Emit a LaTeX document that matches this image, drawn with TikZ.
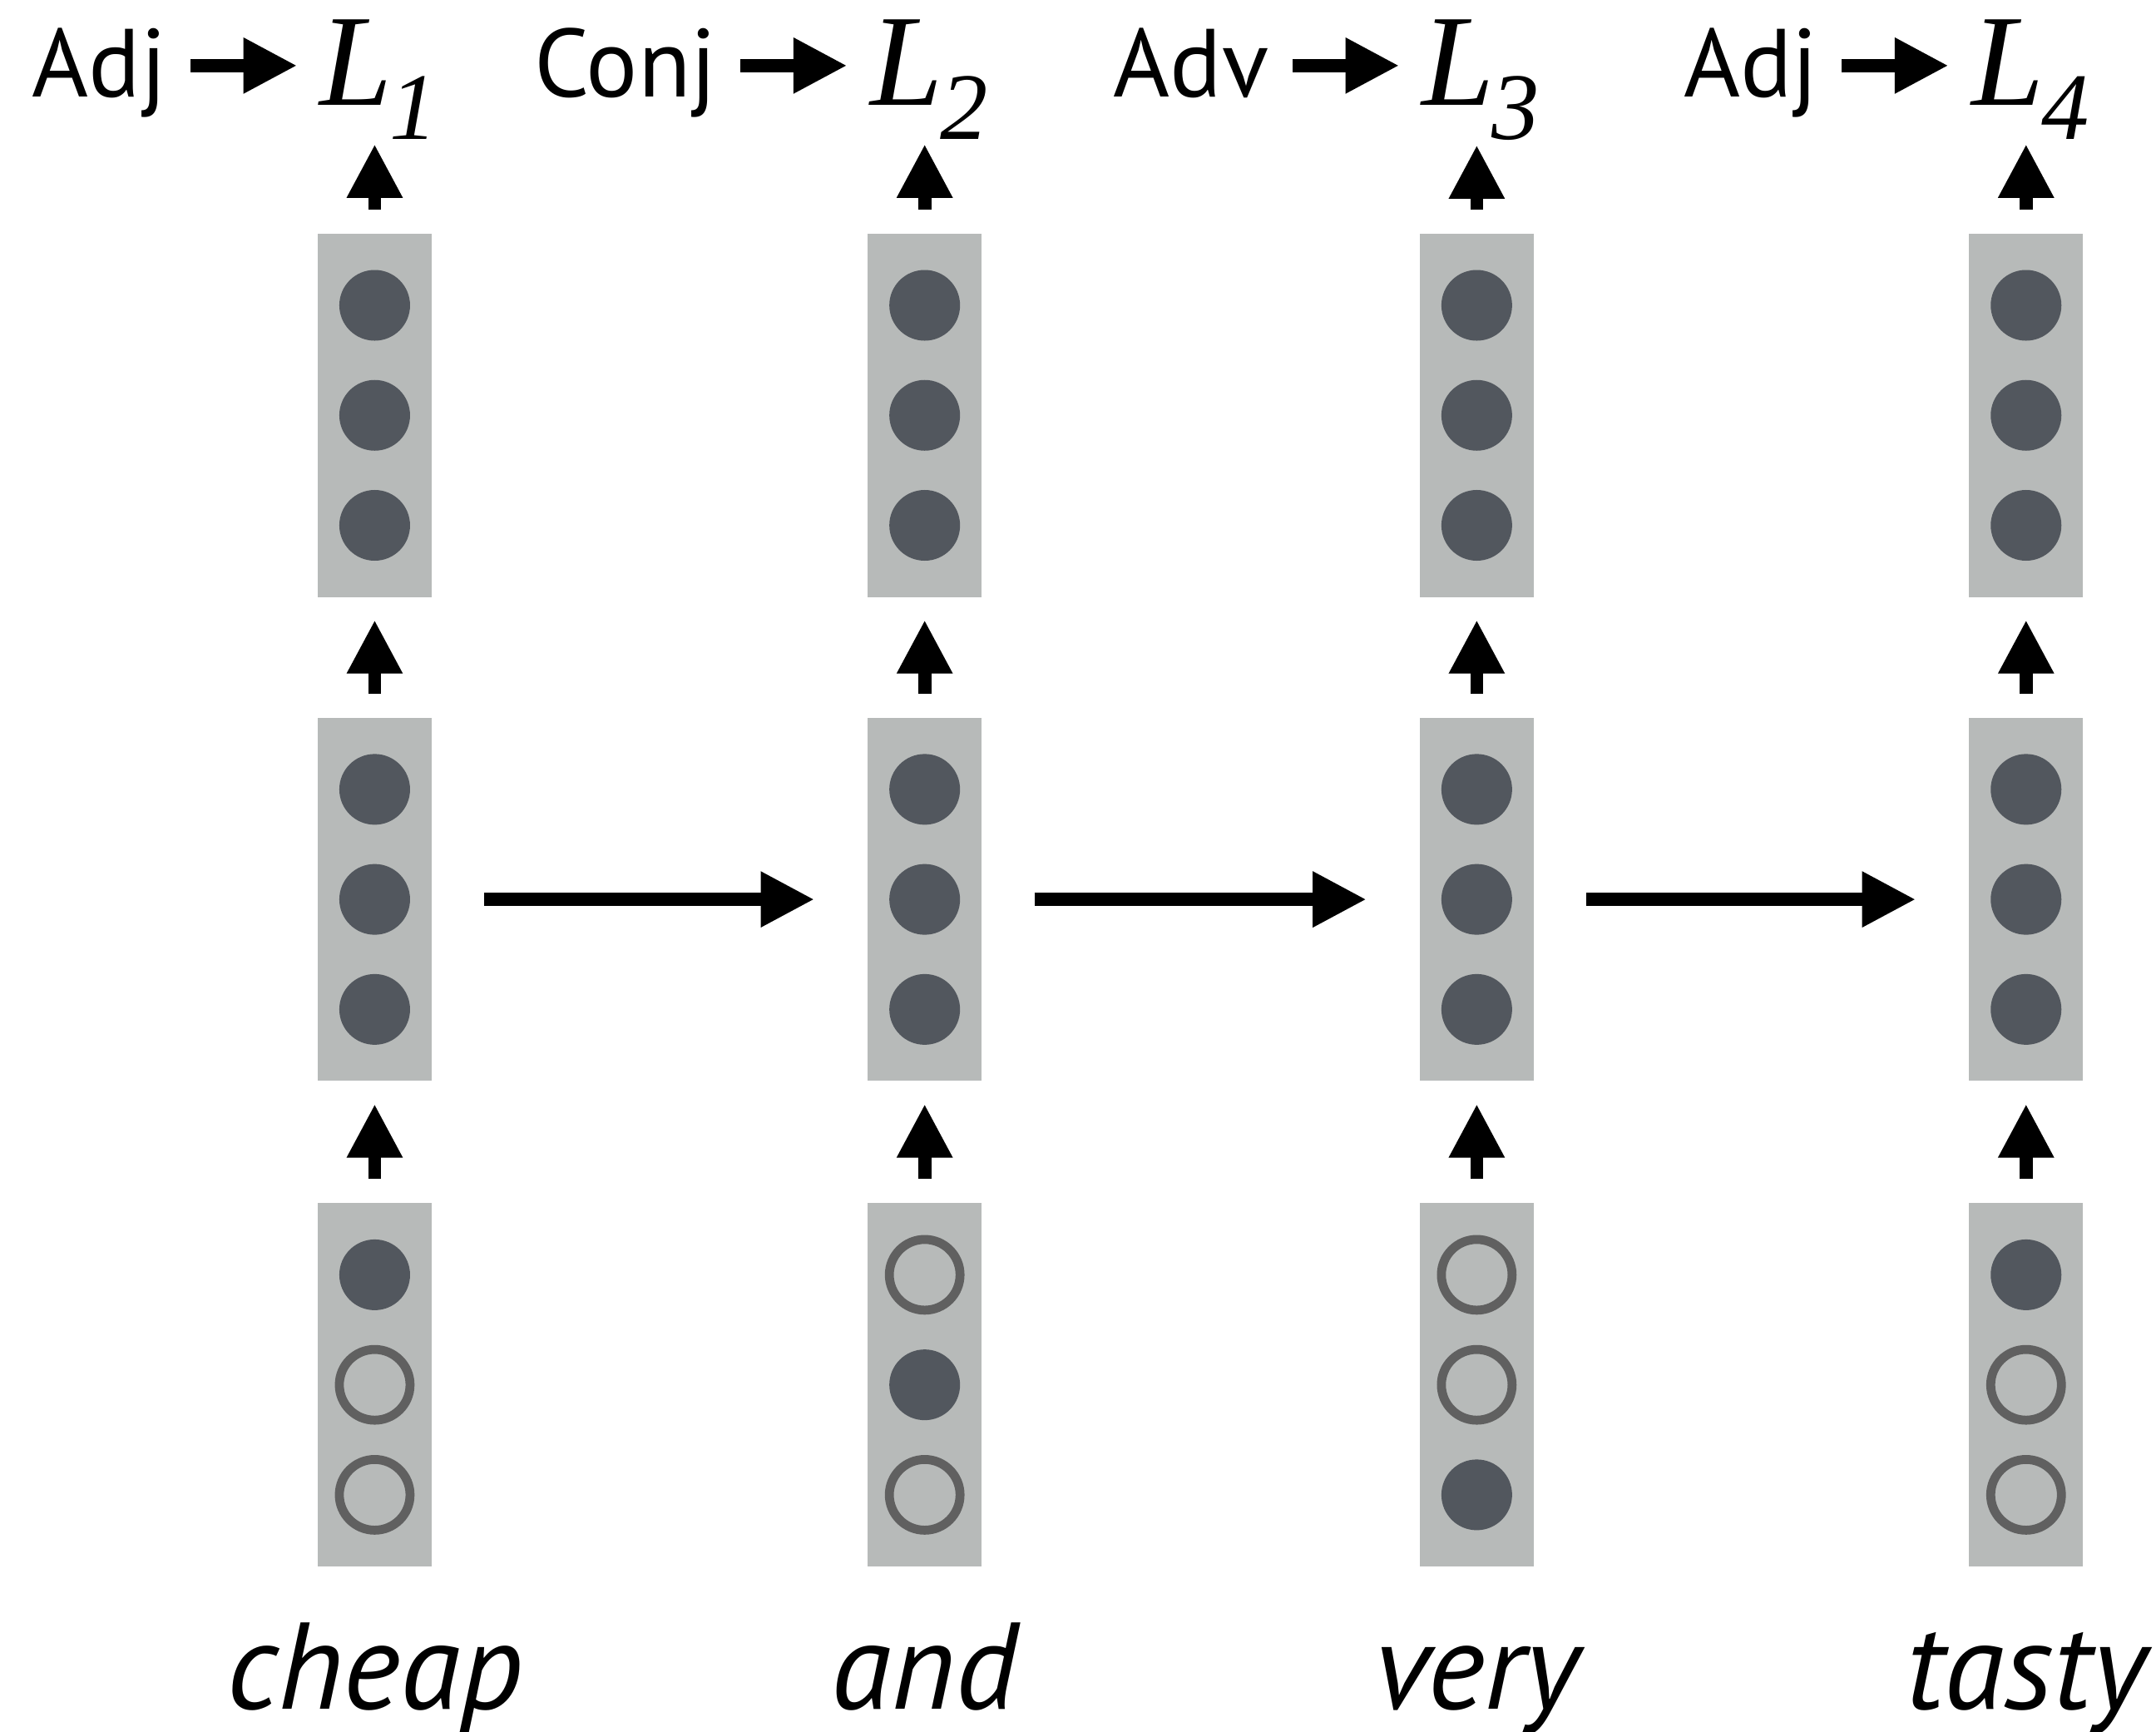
\documentclass[tikz,border=0pt]{standalone}
\usepackage{fontspec}
\usetikzlibrary{arrows.meta}

\newfontfamily\wordfont{PT Sans}
\newfontfamily\lfont{Liberation Serif}

\definecolor{boxgray}{RGB}{183,186,185}
\definecolor{unitdark}{RGB}{82,87,94}
\definecolor{ringgray}{RGB}{96,96,96}

\tikzset{
  layer/.style={fill=boxgray, minimum width=0.83cm, minimum height=2.64cm, inner sep=0},
  on/.style={fill=unitdark},
  off/.style={draw=ringgray, line width=0.065cm},
  arr/.style={line width=0.095cm, -{Triangle[length=0.39cm,width=0.38cm]}},
  tag/.style={font={\wordfont\fontsize{20}{24}\selectfont}, inner sep=0},
  word/.style={font={\wordfont\itshape\fontsize{25.5}{30}\selectfont}, inner sep=0},
  lab/.style={inner sep=0}
}

% L with a lowered index
\newcommand{\Lsub}[1]{{\lfont\itshape\fontsize{27}{30}\selectfont L}\kern-0.02cm\raisebox{-0.245cm}{\lfont\itshape\fontsize{19.7}{22}\selectfont #1}}

\begin{document}
\begin{tikzpicture}[x=0.01cm, y=-0.01cm]
\useasboundingbox (0,0) rectangle (1568,1259);

% Layers, words and labels
\foreach \i/\x/\w/\t in {1/272.5/cheap/Adj, 2/672.5/and/Conj, 3/1074/very/Adv, 4/1473.5/tasty/Adj} {
  \node[layer] (top\i) at (\x,302) {};
  \node[layer] (mid\i) at (\x,654) {};
  \node[layer] (bot\i) at (\x,1007) {};
  \node[word, anchor=base] (w\i) at (\x,1242.7) {\w};
  \node[lab, anchor=base] (l\i) at ([xshift=0.03cm]\x,76.6) {\Lsub{\i}};
  \node[tag, anchor=base east] (t\i) at ([xshift=-1.1cm,yshift=0.06cm]l\i.base west) {\t};
  \coordinate (a\i) at ([yshift=0.229cm]t\i.base east);
}

% Hidden units
\foreach \i in {1,...,4}
  \foreach \l in {top,mid}
    \foreach \d in {-80,0,80}
      \fill[unitdark] (\l\i) ++(0,\d) circle (0.257cm);

% Input units
\foreach \i/\p/\q/\r in {1/on/off/off, 2/off/on/off, 3/off/off/on, 4/on/off/off} {
  \path[\p] (bot\i) ++(0,-80) circle (0.257cm);
  \path[\q] (bot\i) circle (0.257cm);
  \path[\r] (bot\i) ++(0,80) circle (0.257cm);
}

% Up arrows
\foreach \i in {1,...,4} {
  \draw[arr, shorten <=0.17cm, shorten >=0.16cm] (bot\i.north) -- (mid\i.south);
  \draw[arr, shorten <=0.17cm, shorten >=0.16cm] (mid\i.north) -- (top\i.south);
  \draw[arr, shorten <=0.17cm, shorten >=0.03cm] (top\i.north) -- (top\i.north |- l\i.south);
  \draw[arr, shorten <=0.165cm, shorten >=0.16cm] (a\i) -- (a\i -| l\i.west);
}

% Recurrent arrows
\foreach \i/\j in {1/2, 2/3, 3/4}
  \draw[arr, shorten <=0.375cm, shorten >=0.38cm] (mid\i.east) -- (mid\j.west);

\end{tikzpicture}
\end{document}
